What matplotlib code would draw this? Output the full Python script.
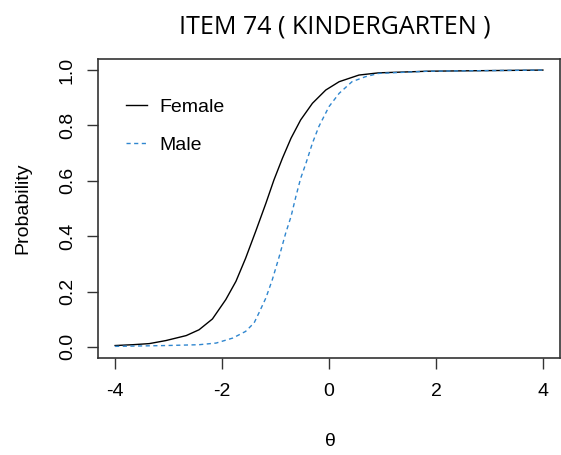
import matplotlib
matplotlib.use('Agg')
import matplotlib.pyplot as plt

# item characteristic curves
theta_f = [-4.00, -3.67, -3.36, -3.05, -2.67, -2.43, -2.18, -1.93, -1.74, -1.56,
           -1.37, -1.18, -1.03, -0.87, -0.71, -0.53, -0.31, -0.06, 0.19, 0.56,
           0.93, 1.87, 4.00]
prob_f = [0.005, 0.008, 0.012, 0.023, 0.041, 0.062, 0.101, 0.171, 0.237, 0.320,
          0.418, 0.519, 0.603, 0.682, 0.754, 0.820, 0.880, 0.928, 0.958, 0.982,
          0.990, 0.996, 1.000]

theta_m = [-4.00, -3.05, -2.43, -2.11, -1.80, -1.56, -1.40, -1.31, -1.18, -1.06,
           -0.93, -0.81, -0.71, -0.62, -0.53, -0.43, -0.31, -0.19, 0.00, 0.19,
           0.43, 0.68, 0.93, 1.87, 4.00]
prob_m = [0.002, 0.005, 0.008, 0.014, 0.032, 0.056, 0.087, 0.123, 0.177, 0.243,
          0.327, 0.411, 0.471, 0.543, 0.609, 0.664, 0.736, 0.796, 0.868, 0.916,
          0.958, 0.976, 0.988, 0.996, 1.000]

xticks = [-4, -2, 0, 2, 4]
yticks = [0.0, 0.2, 0.4, 0.6, 0.8, 1.0]

plt.rcParams['font.family'] = ['Liberation Sans', 'DejaVu Sans']

W, H = 561, 455
fig = plt.figure(figsize=(W / 100, H / 100), dpi=100)
ax = fig.add_axes([98 / W, 1 - 358 / H, 462 / W, 299 / H])

ax.plot(theta_f, prob_f, color='black', lw=1.0, label='Female')
ax.plot(theta_m, prob_m, color='#2f86cf', lw=1.0, ls=(0, (3, 2.5)), label='Male')

ax.set_xlim(-4.32, 4.32)
ax.set_ylim(-0.04, 1.04)
ax.set_xticks(xticks)
ax.set_xticklabels([str(t) for t in xticks], fontsize=14)
ax.set_yticks(yticks)
ax.set_yticklabels(['%.1f' % t for t in yticks], fontsize=14, rotation=90, va='center')
ax.tick_params(axis='x', direction='out', length=8, width=1, color='#333333', pad=10)
ax.tick_params(axis='y', direction='out', length=8, width=1, color='#333333', pad=8)
for s in ax.spines.values():
    s.set_color('#333333')
    s.set_linewidth(1.2)

ax.legend(loc='upper left', bbox_to_anchor=(126 / W, 1 - 98 / H),
          bbox_transform=fig.transFigure, frameon=False, fontsize=14,
          handlelength=1.08, handletextpad=0.62, labelspacing=1.08,
          borderaxespad=0, borderpad=0)

fig.text(335 / W, 1 - 27 / H, 'ITEM 74 ( KINDERGARTEN )', ha='center', va='center',
         fontsize=18, family=['Open Sans', 'DejaVu Sans'])
fig.text(330 / W, 1 - 441 / H, 'θ', ha='center', va='center', fontsize=14)
fig.text(23 / W, 1 - 208 / H, 'Probability', ha='center', va='center',
         rotation=90, fontsize=14)

fig.savefig('out.png', dpi=100)
